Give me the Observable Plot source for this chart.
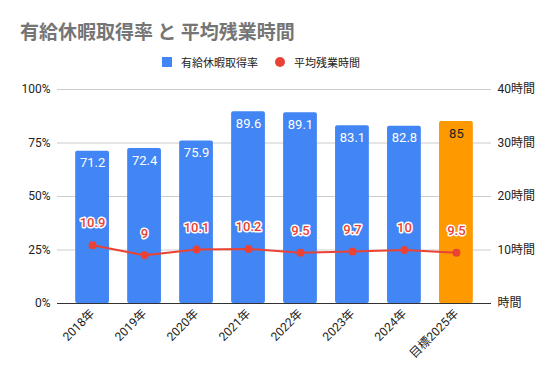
<!DOCTYPE html>
<html>
<head>
<meta charset="utf-8">
<script src="https://cdn.jsdelivr.net/npm/d3@7"></script>
<script src="https://cdn.jsdelivr.net/npm/@observablehq/plot@0.6"></script>
<style>
  body { margin: 0; background: #fff; font-family: Roboto, "Noto Sans CJK JP", sans-serif; }
  #wrap { position: relative; width: 554px; height: 379px; }
  #title { position: absolute; left: 20px; top: 17px; font-size: 19px; font-weight: bold; color: #757575; white-space: nowrap; font-family: "Noto Sans CJK JP", sans-serif; }
  #legend { position: absolute; left: 0; top: 53px; width: 554px; height: 18px; font-size: 11px; color: #222; font-family: "Noto Sans CJK JP", sans-serif; }
  .li { position: absolute; top: 0; white-space: nowrap; line-height: 18px; }
  .sw { position: absolute; }
  #chart { position: absolute; left: 0; top: 0; }
</style>
</head>
<body>
<div id="wrap">
  <div id="chart"></div>
  <div id="title">有給休暇取得率 と 平均残業時間</div>
  <div id="legend"></div>
</div>
<script>
const years = ["2018年", "2019年", "2020年", "2021年", "2022年", "2023年", "2024年", "目標2025年"];
const rate = [71.2, 72.4, 75.9, 89.6, 89.1, 83.1, 82.8, 85];
const overtime = [10.9, 9, 10.1, 10.2, 9.5, 9.7, 10, 9.5];
const targetFlags = [false, false, false, false, false, false, false, true];
const seriesNames = ["有給休暇取得率", "平均残業時間"];
const leftTicks = [0, 25, 50, 75, 100];
const rightTicks = [0, 10, 20, 30, 40];

const blue = "#4285F4", orange = "#FF9900", red = "#EA4335";
const hoursToPct = 100 / 40;

const data = years.map((y, i) => ({year: y, rate: rate[i], ot: overtime[i], target: targetFlags[i]}));

const chart = Plot.plot({
  width: 554,
  height: 379,
  marginTop: 89,
  marginBottom: 76,
  marginLeft: 57,
  marginRight: 63,
  style: {fontFamily: 'Roboto, "Noto Sans CJK JP", sans-serif', fontSize: "12px", color: "#222"},
  x: {domain: years, padding: 0.35, round: false, label: null},
  y: {domain: [0, 100], label: null},
  color: {type: "identity"},
  marks: [
    Plot.gridY(leftTicks.filter(d => d > 0), {stroke: "#cccccc", strokeOpacity: 1}),
    Plot.barY(data, {x: "year", y: "rate", fill: d => d.target ? orange : blue, rx: 2}),
    Plot.ruleY([0], {stroke: "#333"}),
    Plot.text(data, {x: "year", y: "rate", text: d => String(d.rate), dy: 12, fill: d => d.target ? "#222" : "#fff", fontSize: 13}),
    Plot.line(data, {x: "year", y: d => d.ot * hoursToPct, stroke: red, strokeWidth: 2}),
    Plot.dot(data, {x: "year", y: d => d.ot * hoursToPct, r: 4, fill: red}),
    Plot.text(data, {x: "year", y: d => d.ot * hoursToPct, text: d => String(d.ot), dy: -22, fill: red, stroke: "white", strokeWidth: 3, fontSize: 13, fontWeight: 500}),
    Plot.axisY(leftTicks, {anchor: "left", tickSize: 0, tickPadding: 7, tickFormat: d => d + "%", fontSize: 12, fill: "#222"}),
    Plot.axisY(rightTicks.map(d => d * hoursToPct), {anchor: "right", tickSize: 0, tickPadding: 6, tickFormat: d => (d === 0 ? "" : d / hoursToPct) + "時間", fontSize: 12, fill: "#222"}),
    Plot.axisX({tickRotate: -45, tickSize: 0, tickPadding: 8, fontSize: 12, fill: "#222", label: null})
  ]
});
document.getElementById("chart").appendChild(chart);

const legend = document.getElementById("legend");
legend.innerHTML =
  `<div class="sw" style="left:162px;top:4px;width:10px;height:10px;background:${blue}"></div>` +
  `<div class="li" style="left:181px">${seriesNames[0]}</div>` +
  `<div class="sw" style="left:275px;top:4px;width:10px;height:10px;border-radius:50%;background:${red}"></div>` +
  `<div class="li" style="left:294px">${seriesNames[1]}</div>`;
</script>
</body>
</html>
